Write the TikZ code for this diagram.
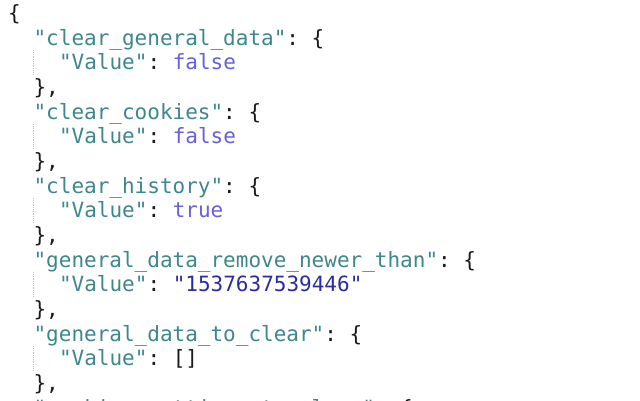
\documentclass[tikz,border=0pt]{standalone}
\usepackage{fontspec}
\setmonofont{DejaVu Sans Mono}
\usepackage{tikz}
\usetikzlibrary{positioning}
\definecolor{jsonkey}{RGB}{61,135,141}
\definecolor{jsonbool}{RGB}{104,96,216}
\definecolor{jsonstr}{RGB}{44,44,160}
\definecolor{jsonpunct}{RGB}{26,26,26}
\tikzstyle{line}=[anchor=base west,inner sep=0pt,text height=19.5pt,text depth=5.2pt,
  font=\ttfamily\fontsize{21}{25}\selectfont,text=jsonpunct]
\tikzstyle{guide}=[draw=black!25,densely dotted,line width=0.8pt]
\newcommand{\jkey}[1]{\textcolor{jsonkey}{"#1"}}
\newcommand{\jbool}[1]{\textcolor{jsonbool}{#1}}
\newcommand{\jstr}[1]{\textcolor{jsonstr}{"#1"}}

\begin{document}
\begin{tikzpicture}[x=1pt,y=1pt]
    \useasboundingbox[fill=white] (0,0) rectangle (640,-400);
    \node[line](l0) at (8,-20.5) {\{};
    \node[line](l1) at (33.4,-45.2) {\jkey{clear\_general\_data}: \{};
    \node[line](v1) at (58.8,-69.8) {\jkey{Value}: \jbool{false}};
    \node[line](l3) at (33.4,-94.5) {\},};
    \node[line](l4) at (33.4,-119.2) {\jkey{clear\_cookies}: \{};
    \node[line](v2) at (58.8,-143.9) {\jkey{Value}: \jbool{false}};
    \node[line](l6) at (33.4,-168.5) {\},};
    \node[line](l7) at (33.4,-193.2) {\jkey{clear\_history}: \{};
    \node[line](v3) at (58.8,-217.9) {\jkey{Value}: \jbool{true}};
    \node[line](l9) at (33.4,-242.5) {\},};
    \node[line](l10) at (33.4,-267.2) {\jkey{general\_data\_remove\_newer\_than}: \{};
    \node[line](v4) at (58.8,-291.9) {\jkey{Value}: \jstr{1537637539446}};
    \node[line](l12) at (33.4,-316.5) {\},};
    \node[line](l13) at (33.4,-341.2) {\jkey{general\_data\_to\_clear}: \{};
    \node[line](v5) at (58.8,-365.9) {\jkey{Value}: []};
    \node[line](l15) at (33.4,-390.6) {\},};
    \node[line](l16) at (33.4,-415.2) {\jkey{cookies\_settings\_to\_clear}: \{};

    % indent guides
    \foreach \v in {v1,v2,v3,v4,v5}
      \draw[guide] ([xshift=-25.4pt]\v.north west) -- ([xshift=-25.4pt]\v.south west);
\end{tikzpicture}
\end{document}
